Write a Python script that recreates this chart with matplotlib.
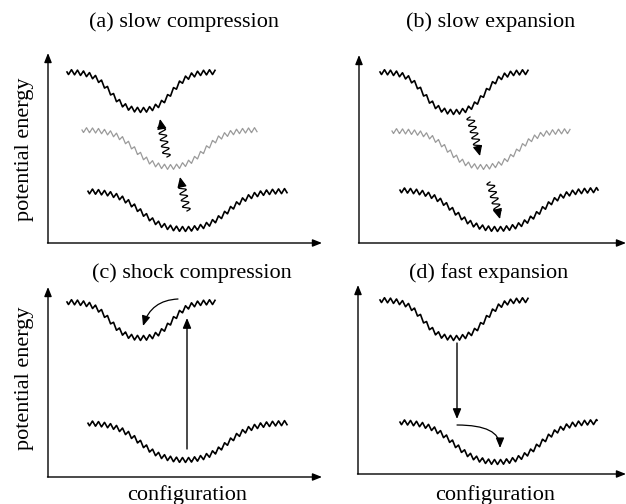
import matplotlib.pyplot as plt
import numpy as np

# pixel-space schematic, origin top-left
W, H = 626, 504

# axis frames: origin, top of y arrow, end of x arrow
axis_origin = [(48, 243), (359, 243), (48, 477), (358, 474)]
axis_ytop = [53, 55, 287, 285]
axis_xend = [322, 626, 322, 626]

titles = ["(a) slow compression", "(b) slow expansion",
          "(c) shock compression", "(d) fast expansion"]
title_pos = [(184, 22), (491, 22), (192, 273), (489, 273)]

# wells: x start, x end, mid-points of the two walls, level at ends,
# level at bottom, wall softness, colour
well_x0 = [67, 82, 88, 380, 392, 400, 67, 88, 380, 400]
well_x1 = [215, 257, 287, 528, 570, 598, 215, 287, 528, 597]
well_xl = [110, 135, 140, 423, 448, 453, 110, 140, 423, 453]
well_xr = [172, 205, 228, 485, 518, 541, 172, 228, 485, 541]
well_top = [72, 130, 191, 72, 131, 190, 302, 423, 300, 422]
well_bot = [110, 167, 229, 112, 167, 229, 338, 460, 338, 462]
well_s = [17, 21, 25, 17, 21, 25, 17, 25, 17, 25]
well_col = ["black", "#9a9a9a", "black", "black", "#9a9a9a", "black",
            "black", "black", "black", "black"]

# wiggly photon-like arrows (start -> end)
wavy_start = [(167, 157), (187, 211), (470, 117), (490, 182)]
wavy_end = [(160, 119), (180, 177), (480, 156), (500, 219)]

# straight transitions
jump_start = [(187, 449), (457, 343)]
jump_end = [(187, 318), (457, 419)]

# curved relaxation arrows
bend_start = [(178, 299), (457, 425)]
bend_end = [(143, 326), (500, 448)]
bend_conn = ["arc3,rad=0.35", "angle3,angleA=0,angleB=90"]


def tri(u):
    return 2 / np.pi * np.arcsin(np.sin(2 * np.pi * u))


def well(ax, x0, x1, xl, xr, ytop, ybot, s, col):
    x = np.linspace(x0, x1, 1200)
    shape = 0.5 * (np.tanh((x - xl) / s) - np.tanh((x - xr) / s))
    shape = (shape - shape.min()) / (shape.max() - shape.min())
    y = ytop + (ybot - ytop) * shape + 2.5 * tri((x - x0) / 6.0)
    lw = 1.2 if col == "black" else 0.9
    ax.plot(x, y, color=col, lw=lw)


def wavy(ax, p0, p1):
    p0 = np.array(p0, float)
    p1 = np.array(p1, float)
    d = p1 - p0
    L = np.hypot(*d)
    t = d / L
    n = np.array([-t[1], t[0]])
    s = np.linspace(0, L - 8, 300)
    amp = 3.6 * np.sin(2 * np.pi * s / 6.5)
    pts = p0 + np.outer(s, t) + np.outer(amp, n)
    ax.plot(pts[:, 0], pts[:, 1], color="black", lw=0.9)
    tail = p0 + (L - 9) * t
    ax.annotate("", xy=p1, xytext=tail,
                arrowprops=dict(arrowstyle="-|>,head_length=0.6,head_width=0.28",
                                color="black", lw=0.9, shrinkA=0, shrinkB=0))


fig = plt.figure(figsize=(W / 100, H / 100), dpi=100)
ax = fig.add_axes([0, 0, 1, 1])
ax.set_xlim(0, W)
ax.set_ylim(H, 0)
ax.axis("off")

font = dict(family=["Liberation Serif", "DejaVu Serif"], fontsize=16)

for (ox, oy), yt, xe in zip(axis_origin, axis_ytop, axis_xend):
    style = dict(arrowstyle="-|>,head_length=0.55,head_width=0.22",
                 color="black", lw=1.0, shrinkA=0, shrinkB=0)
    ax.annotate("", xy=(ox, yt), xytext=(ox, oy), arrowprops=style)
    ax.annotate("", xy=(xe, oy), xytext=(ox - 0.5, oy), arrowprops=style)

for t, (x, y) in zip(titles, title_pos):
    ax.text(x, y, t, ha="center", va="center", **font)

ax.text(25, 149, "potential energy", rotation=90, ha="center", va="center", **font)
ax.text(25, 378, "potential energy", rotation=90, ha="center", va="center", **font)
ax.text(187, 495, "configuration", ha="center", va="center", **font)
ax.text(495, 495, "configuration", ha="center", va="center", **font)

for i in range(len(well_x0)):
    well(ax, well_x0[i], well_x1[i], well_xl[i], well_xr[i],
         well_top[i], well_bot[i], well_s[i], well_col[i])

for p0, p1 in zip(wavy_start, wavy_end):
    wavy(ax, p0, p1)

for p0, p1 in zip(jump_start, jump_end):
    ax.annotate("", xy=p1, xytext=p0,
                arrowprops=dict(arrowstyle="-|>,head_length=0.6,head_width=0.25",
                                color="black", lw=1.0, shrinkA=0, shrinkB=0))

for p0, p1, c in zip(bend_start, bend_end, bend_conn):
    ax.annotate("", xy=p1, xytext=p0,
                arrowprops=dict(arrowstyle="-|>,head_length=0.6,head_width=0.25",
                                color="black", lw=0.9, shrinkA=0, shrinkB=0,
                                connectionstyle=c))

fig.savefig("out.png", dpi=100)
